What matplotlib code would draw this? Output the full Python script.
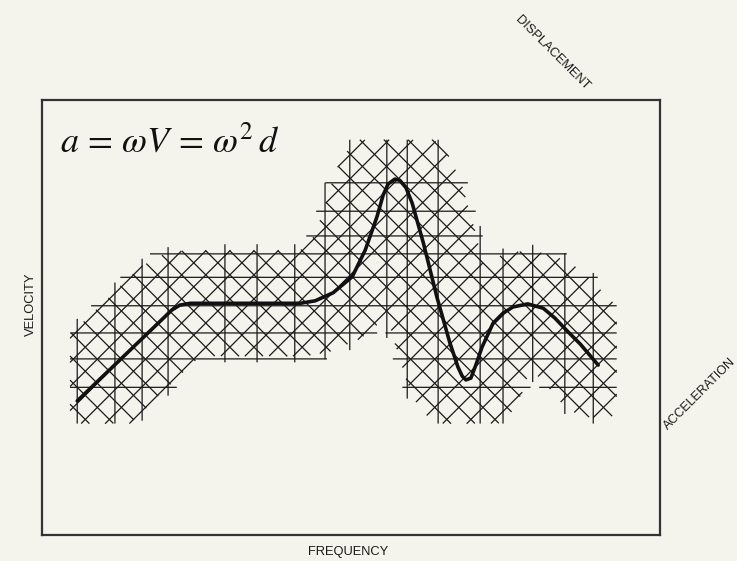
import numpy as np
import matplotlib
matplotlib.use("Agg")
import matplotlib.pyplot as plt

plt.rcParams['font.family'] = ['Liberation Sans', 'DejaVu Sans']
plt.rcParams['mathtext.fontset'] = 'stix'

# response curve, frequency vs velocity (arbitrary units)
freq = [5.7, 21.0, 22.3, 24.0, 41.8, 44.2, 47.1, 50.2, 52.3, 54.2, 55.2, 56.0,
        57.1, 57.9, 58.9, 59.9, 61.7, 63.9, 66.0, 67.3, 68.0, 68.6, 69.4, 70.2,
        71.2, 73.0, 74.6, 76.2, 78.6, 81.1, 83.0, 85.0, 87.1, 90.0]
velocity = [21.7, 36.4, 37.2, 37.5, 37.5, 37.9, 39.2, 41.8, 46.1, 51.5, 55.0, 56.8,
            57.6, 57.4, 56.2, 53.7, 47.3, 38.5, 31.1, 27.2, 25.7, 25.1, 25.4, 27.5,
            30.4, 34.3, 35.9, 36.9, 37.4, 36.7, 35.1, 33.0, 30.9, 27.5]

# nomograph grid lines
grid_freq = [5.7, 11.8, 16.2, 20.4, 29.6, 34.8, 40.9, 45.8, 49.8, 55.8, 59.1,
             64.1, 70.9, 74.6, 79.4, 84.6, 89.2]
grid_vel = [57.0, 52.4, 48.4, 45.5, 41.7, 37.1, 32.7, 28.5, 23.9]
diag_step = 3.9

band = 8.6          # half width of the drawn grid band around the curve
xmax, ymax = 100.0, 70.4

fig = plt.figure(figsize=(7.37, 5.61), dpi=100)
fig.patch.set_facecolor('#f4f3ec')
ax = fig.add_axes([42 / 737, 26 / 561, 618 / 737, 435 / 561])
ax.set_facecolor('#f4f3ec')
ax.set_xlim(0, xmax)
ax.set_ylim(0, ymax)
ax.set_xticks([])
ax.set_yticks([])
for sp in ax.spines.values():
    sp.set_linewidth(1.6)
    sp.set_color('#333333')

cx = np.array(freq)
cy = np.array(velocity)


def dist_to_curve(px, py):
    # distance from sample points to the curve polyline
    ax0, ay0 = cx[:-1], cy[:-1]
    dx, dy = cx[1:] - ax0, cy[1:] - ay0
    px = px[:, None]
    py = py[:, None]
    t = ((px - ax0) * dx + (py - ay0) * dy) / (dx * dx + dy * dy)
    t = np.clip(t, 0, 1)
    qx = ax0 + t * dx
    qy = ay0 + t * dy
    return np.sqrt((px - qx) ** 2 + (py - qy) ** 2).min(axis=1)


def grid_line(xs, ys, width):
    d = dist_to_curve(xs, ys)
    keep = (d < width) & (xs > 4.5) & (xs < 93) & (ys > 18) & (ys < 64)
    ax.plot(np.where(keep, xs, np.nan), np.where(keep, ys, np.nan),
            color='#1a1a1a', lw=0.9, solid_capstyle='butt')


s = np.linspace(0, 1, 1500)
for gx in grid_freq:
    grid_line(np.full_like(s, gx), s * ymax, band + 1.0)
for gy in grid_vel:
    grid_line(s * xmax, np.full_like(s, gy), band + 1.0)
# falling diagonals: freq + vel = c
for c in np.arange(14, 132, diag_step):
    xs = s * xmax
    grid_line(xs, c - xs, band)
# rising diagonals: vel - freq = c
for c in np.arange(-78, 34, diag_step):
    xs = s * xmax
    grid_line(xs, c + xs, band)

ax.plot(freq, velocity, color='#111111', lw=2.6, solid_capstyle='round',
        solid_joinstyle='round')

ax.text(2.9, 62.1, r'$a\,=\,\omega V\,=\,\omega^2\,d$', fontsize=26, color='#111111',
        va='baseline', ha='left')

lab = dict(fontsize=9.3, color='#1a1a1a', ha='center', va='center')
fig.text(552 / 737, 1 - 53 / 561, 'DISPLACEMENT', rotation=-45, **lab)
fig.text(700 / 737, 1 - 394 / 561, 'ACCELERATION', rotation=45, fontsize=9.0,
         color='#1a1a1a', ha='center', va='center')
fig.text(31 / 737, 1 - 304 / 561, 'VELOCITY', rotation=90, **lab)
fig.text(348 / 737, 1 - 552 / 561, 'FREQUENCY', **lab)

fig.savefig('out.png', dpi=100, facecolor=fig.get_facecolor())
